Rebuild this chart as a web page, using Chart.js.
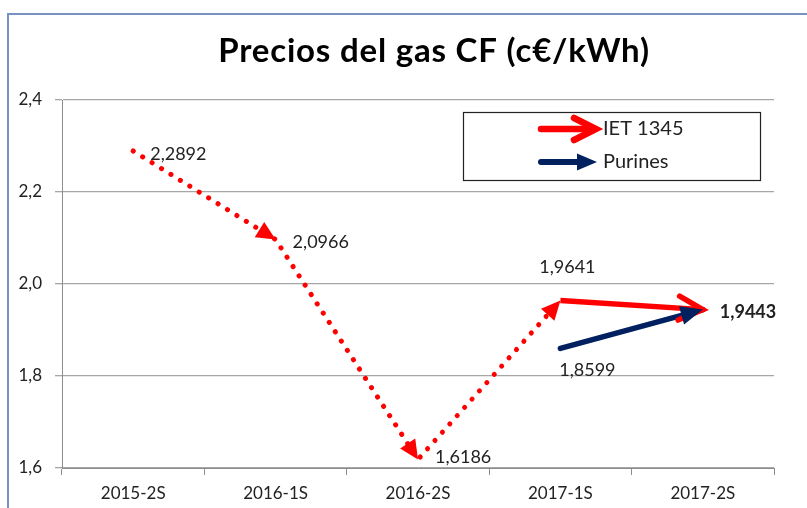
<!DOCTYPE html>
<html><head><meta charset="utf-8">
<script src="https://cdn.jsdelivr.net/npm/chart.js@4.4.1/dist/chart.umd.min.js"></script>
<style>
html,body{margin:0;padding:0;background:#fff;}
#wrap{position:relative;width:807px;height:508px;overflow:hidden;}
#frame{position:absolute;left:7px;top:13px;width:820px;height:520px;border-left:2px solid #7592c2;border-top:2px solid #7592c2;box-sizing:border-box;pointer-events:none;}
canvas{position:absolute;left:0;top:0;}
</style></head>
<body><div id="wrap"><canvas id="c" width="807" height="508"></canvas><div id="frame"></div></div>
<script>
const titleText = 'Precios del gas CF (c€/kWh)';
const categories = ['2015-2S','2016-1S','2016-2S','2017-1S','2017-2S'];
const ietValues = [2.2892, 2.0966, 1.6186, 1.9641, 1.9443];
const purinesValues = [null, null, null, 1.8599, 1.9443];
const yTicks = [1.6, 1.8, 2.0, 2.2, 2.4];
const seriesNames = ['IET 1345', 'Purines'];
// label placement per point (styles, not data)
const ietLabelPlace = ['right','right','rightLow','above','right'];
const purLabelPlace = [null,null,null,'below',null];

const RED = '#ff0000', NAVY = '#002060';
const FONT = 'Lato, "Open Sans", sans-serif';
const fmt = v => v.toFixed(4).replace('.', ',');

function triangle(ctx, x0, y0, x1, y1, len, half, color){
  const a = Math.atan2(y1 - y0, x1 - x0);
  ctx.save();
  ctx.translate(x1, y1); ctx.rotate(a);
  ctx.beginPath(); ctx.moveTo(0,0); ctx.lineTo(-len, -half); ctx.lineTo(-len, half); ctx.closePath();
  ctx.fillStyle = color; ctx.fill();
  ctx.restore();
}
function chevron(ctx, x0, y0, x1, y1, len, half, color, w){
  const a = Math.atan2(y1 - y0, x1 - x0);
  ctx.save();
  ctx.translate(x1, y1); ctx.rotate(a);
  ctx.beginPath(); ctx.moveTo(-len, -half); ctx.lineTo(0,0); ctx.lineTo(-len, half);
  ctx.strokeStyle = color; ctx.lineWidth = w; ctx.lineCap = 'round'; ctx.lineJoin = 'miter'; ctx.stroke();
  ctx.restore();
}

const decor = {
  id: 'decor',
  afterDatasetsDraw(chart){
    const ctx = chart.ctx;
    const m0 = chart.getDatasetMeta(0).data, m1 = chart.getDatasetMeta(1).data;
    for (let i = 1; i <= 3; i++) {
      triangle(ctx, m0[i-1].x, m0[i-1].y, m0[i].x, m0[i].y, 19, 9, RED);
    }
    chevron(ctx, m0[3].x, m0[3].y, m0[4].x, m0[4].y, 24, 12, RED, 5.5);
    triangle(ctx, m1[3].x, m1[3].y, m1[4].x, m1[4].y, 22, 9.5, NAVY);
    // data labels
    ctx.save();
    ctx.fillStyle = '#222'; ctx.textBaseline = 'middle';
    const put = (pt, v, place, bold) => {
      ctx.font = (bold ? 'bold ' : '') + '18px ' + FONT;
      if (place === 'right') { ctx.textAlign = 'left'; ctx.fillText(fmt(v), pt.x + 17, pt.y + 3); }
      else if (place === 'rightLow') { ctx.textAlign = 'left'; ctx.fillText(fmt(v), pt.x + 17, pt.y - 2); }
      else if (place === 'above') { ctx.textAlign = 'center'; ctx.fillText(fmt(v), pt.x + 7, pt.y - 33); }
      else if (place === 'below') { ctx.textAlign = 'center'; ctx.fillText(fmt(v), pt.x + 27, pt.y + 22); }
    };
    ietValues.forEach((v, i) => { if (v != null && ietLabelPlace[i]) put(m0[i], v, ietLabelPlace[i], i === 4); });
    purinesValues.forEach((v, i) => { if (v != null && purLabelPlace[i]) put(m1[i], v, purLabelPlace[i], false); });
    ctx.restore();
    // legend
    ctx.save();
    ctx.strokeStyle = '#222'; ctx.lineWidth = 1.2;
    ctx.strokeRect(463.5, 112.5, 297, 68);
    ctx.lineCap = 'round';
    ctx.beginPath(); ctx.moveTo(541, 129); ctx.lineTo(593, 129); ctx.strokeStyle = RED; ctx.lineWidth = 6.5; ctx.stroke();
    chevron(ctx, 541, 129, 596, 129, 22, 11, RED, 6.5);
    ctx.beginPath(); ctx.moveTo(541, 162); ctx.lineTo(582, 162); ctx.strokeStyle = NAVY; ctx.lineWidth = 6; ctx.stroke();
    triangle(ctx, 541, 162, 597, 162, 20, 8.5, NAVY);
    ctx.font = '20px ' + FONT; ctx.fillStyle = '#222'; ctx.textAlign = 'left'; ctx.textBaseline = 'middle';
    ctx.fillText(seriesNames[0], 603, 129);
    ctx.fillText(seriesNames[1], 603, 162);
    // title
    ctx.font = 'bold 33px ' + FONT; ctx.fillStyle = '#000'; ctx.textAlign = 'center'; ctx.textBaseline = 'alphabetic';
    ctx.letterSpacing = '0.8px';
    ctx.fillText(titleText, 434, 62);
    ctx.restore();
  }
};

new Chart(document.getElementById('c'), {
  type: 'line',
  data: {
    labels: categories,
    datasets: [
      { label: seriesNames[0], data: ietValues, borderColor: RED, borderWidth: 5, pointRadius: 0,
        borderCapStyle: 'round', spanGaps: false,
        segment: {
          borderDash: c => c.p1DataIndex <= 3 ? [0.1, 11] : [],
          borderWidth: c => c.p1DataIndex <= 3 ? 5 : 5.5,
          borderCapStyle: c => c.p1DataIndex <= 3 ? 'round' : 'butt'
        } },
      { label: seriesNames[1], data: purinesValues, borderColor: NAVY, borderWidth: 5.5, pointRadius: 0,
        borderCapStyle: 'round' }
    ]
  },
  options: {
    responsive: false, animation: false, events: [],
    layout: { padding: { left: 0, top: 100, right: 33, bottom: 0 } },
    plugins: { legend: { display: false }, title: { display: false }, tooltip: { enabled: false } },
    scales: {
      x: {
        offset: true,
        grid: { offset: true, drawOnChartArea: false, drawTicks: true, tickLength: 7, color: '#8c8c8c' },
        border: { color: '#8c8c8c', width: 1 },
        ticks: { color: '#222', font: { family: FONT, size: 17 }, padding: 8, maxRotation: 0 },
        afterFit: s => { s.height = 40; }
      },
      y: {
        min: 1.6, max: 2.4,
        afterBuildTicks: s => { s.ticks = yTicks.map(v => ({ value: v })); },
        grid: { color: '#a6a6a6', tickLength: 7, lineWidth: 1.3 },
        border: { color: '#8c8c8c', width: 1 },
        ticks: { color: '#222', font: { family: FONT, size: 17 }, padding: 13,
                 callback: v => v.toFixed(1).replace('.', ',') },
        afterFit: s => { s.width = 62; }
      }
    }
  },
  plugins: [decor]
});
</script></body></html>
